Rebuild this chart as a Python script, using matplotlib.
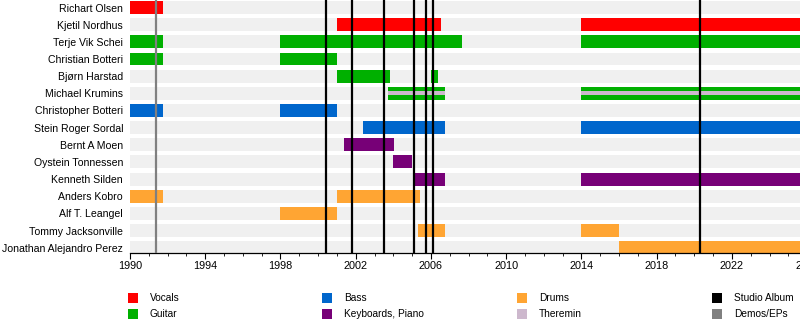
import matplotlib
matplotlib.use("Agg")
import matplotlib.pyplot as plt
from matplotlib.patches import Rectangle

plt.rcParams['font.family'] = ['Liberation Sans', 'DejaVu Sans']

members = ["Richart Olsen", "Kjetil Nordhus", "Terje Vik Schei", "Christian Botteri",
           "Bjørn Harstad", "Michael Krumins", "Christopher Botteri", "Stein Roger Sordal",
           "Bernt A Moen", "Oystein Tonnessen", "Kenneth Silden", "Anders Kobro",
           "Alf T. Leangel", "Tommy Jacksonville", "Jonathan Alejandro Perez"]

END = 2027.0
# (member, role, start, end)
spans = [
    ("Richart Olsen", "Vocals", 1990.0, 1991.75),
    ("Kjetil Nordhus", "Vocals", 2001.0, 2006.55),
    ("Kjetil Nordhus", "Vocals", 2014.0, END),
    ("Terje Vik Schei", "Guitar", 1990.0, 1991.75),
    ("Terje Vik Schei", "Guitar", 1998.0, 2007.65),
    ("Terje Vik Schei", "Guitar", 2014.0, END),
    ("Christian Botteri", "Guitar", 1990.0, 1991.75),
    ("Christian Botteri", "Guitar", 1998.0, 2001.0),
    ("Bjørn Harstad", "Guitar", 2001.0, 2003.8),
    ("Bjørn Harstad", "Guitar", 2006.0, 2006.4),
    ("Michael Krumins", "Guitar", 2003.7, 2006.75),
    ("Michael Krumins", "Guitar", 2014.0, END),
    ("Christopher Botteri", "Bass", 1990.0, 1991.75),
    ("Christopher Botteri", "Bass", 1998.0, 2001.0),
    ("Stein Roger Sordal", "Bass", 2002.4, 2006.75),
    ("Stein Roger Sordal", "Bass", 2014.0, END),
    ("Bernt A Moen", "Keyboards, Piano", 2001.4, 2004.05),
    ("Oystein Tonnessen", "Keyboards, Piano", 2004.0, 2005.0),
    ("Kenneth Silden", "Keyboards, Piano", 2005.05, 2006.75),
    ("Kenneth Silden", "Keyboards, Piano", 2014.0, END),
    ("Anders Kobro", "Drums", 1990.0, 1991.75),
    ("Anders Kobro", "Drums", 2001.0, 2005.4),
    ("Alf T. Leangel", "Drums", 1998.0, 2001.0),
    ("Tommy Jacksonville", "Drums", 2005.3, 2006.75),
    ("Tommy Jacksonville", "Drums", 2014.0, 2016.0),
    ("Jonathan Alejandro Perez", "Drums", 2016.0, END),
]
# secondary role stripes (member, role, start, end)
stripes = [
    ("Michael Krumins", "Theremin", 2003.7, 2006.75),
    ("Michael Krumins", "Theremin", 2014.0, END),
]

studio_albums = [2000.4, 2001.8, 2003.5, 2005.1, 2005.75, 2006.1, 2020.3]
demos_eps = [1991.4]

colors = {
    "Vocals": "#ff0000",
    "Guitar": "#00b000",
    "Bass": "#0066cc",
    "Keyboards, Piano": "#770077",
    "Drums": "#ffa533",
    "Theremin": "#cdb8cd",
    "Studio Album": "#000000",
    "Demos/EPs": "#808080",
}
legend_order = ["Vocals", "Guitar", "Bass", "Keyboards, Piano",
                "Drums", "Theremin", "Studio Album", "Demos/EPs"]

W, H = 800, 332
PX_PER_YEAR = 18.81
XMIN, XMAX = 1990, 2027
fig = plt.figure(figsize=(W / 100, H / 100), dpi=100)
ax = fig.add_axes([130 / W, (H - 253) / H, (XMAX - XMIN) * PX_PER_YEAR / W, 253 / H])

n = len(members)
bh = 0.75
for i, m in enumerate(members):
    ax.barh(i, XMAX - XMIN, left=XMIN, height=bh, color="#f0f0f0", zorder=0)

idx = {m: i for i, m in enumerate(members)}
for m, role, s, e in spans:
    ax.barh(idx[m], e - s, left=s, height=bh, color=colors[role], zorder=1)
for m, role, s, e in stripes:
    ax.barh(idx[m], e - s, left=s, height=bh * 0.3, color=colors[role], zorder=2)

for x in demos_eps:
    ax.axvline(x, color=colors["Demos/EPs"], lw=1.6, zorder=3)
for x in studio_albums:
    ax.axvline(x, color=colors["Studio Album"], lw=1.6, zorder=3)

ax.set_yticks(range(n))
ax.set_yticklabels(members, fontsize=7.6)
ax.tick_params(axis='y', length=0, pad=5)
ax.set_xticks(range(1990, 2027, 4))
ax.set_xticks(range(1990, 2027, 1), minor=True)
ax.tick_params(axis='x', which='major', length=4, width=0.8, labelsize=7.8, pad=2)
ax.tick_params(axis='x', which='minor', length=2.5, width=0.6)
ax.set_xlim(XMIN, XMAX)
ax.set_ylim(n - 1 + 0.31, -0.44)
for sp in ["top", "right", "left"]:
    ax.spines[sp].set_visible(False)
ax.spines["bottom"].set_linewidth(0.9)

# legend
col_x = [128, 322, 517, 712]
row_y = [298, 314]
for k, name in enumerate(legend_order):
    c, r = divmod(k, 2)
    x0, yc = col_x[c], row_y[r]
    fig.add_artist(Rectangle((x0 / W, (H - yc - 5) / H), 10 / W, 10 / H,
                             transform=fig.transFigure, color=colors[name], lw=0))
    fig.text((x0 + 22) / W, (H - yc) / H, name, fontsize=7.3, va='center', ha='left')

fig.savefig("out.png", dpi=100)
